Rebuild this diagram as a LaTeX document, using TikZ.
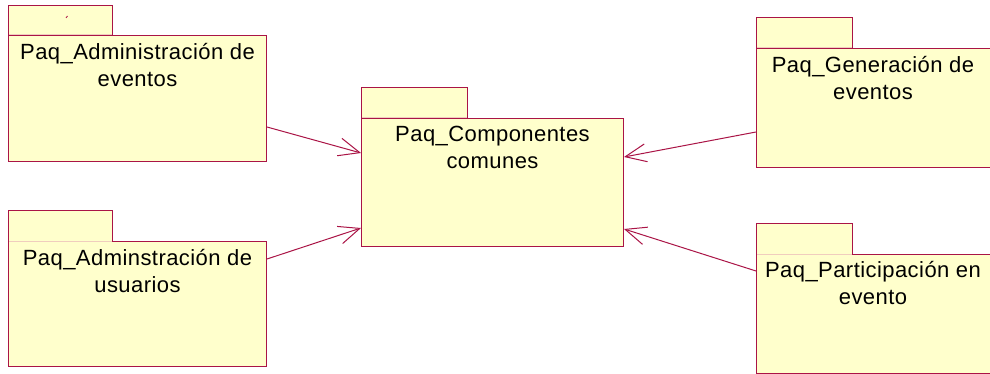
\documentclass[tikz,border=0pt]{standalone}
\usepackage{fontspec}
\setmainfont{Liberation Sans}
\newfontfamily\pkgfont{Liberation Sans}[LetterSpace=2]
\usetikzlibrary{arrows.meta,calc}
\definecolor{pkgline}{RGB}{170,20,70}
\definecolor{pkgfill}{RGB}{255,255,204}
\definecolor{tabseam}{RGB}{240,205,190}
\begin{document}
\begin{tikzpicture}[x=1pt,y=-1pt,
  pkgbox/.style={draw=pkgline,fill=pkgfill,line width=1pt,inner sep=0pt,anchor=north west,rectangle},
  pkgtext/.style={font=\pkgfont\fontsize{22}{27}\selectfont,align=center,inner sep=0pt,anchor=north,text=black},
  dep/.style={draw=pkgline,line width=1pt,-{Straight Barb[length=21pt,width=18pt,line width=1pt]}}]
\useasboundingbox (0,0) rectangle (990,374);
\clip (0,0) rectangle (990,374);
\fill[white] (0,0) rectangle (990,374);
% packages: tab, body, pale seam under the tab
\node[pkgbox,minimum width=104,minimum height=30] (p1tab) at (8,5) {};
\node[pkgbox,minimum width=258,minimum height=126] (p1) at (8,35) {};
\draw[tabseam,line width=1pt] (9,35) -- (111.5,35);
\node[pkgbox,minimum width=104,minimum height=31] (p2tab) at (8,210) {};
\node[pkgbox,minimum width=258,minimum height=125] (p2) at (8,241) {};
\draw[tabseam,line width=1pt] (9,241) -- (111.5,241);
\node[pkgbox,minimum width=106,minimum height=31] (pctab) at (361,87) {};
\node[pkgbox,minimum width=262,minimum height=128] (pc) at (361,118) {};
\draw[tabseam,line width=1pt] (362,118) -- (466.5,118);
\node[pkgbox,minimum width=96,minimum height=31] (pgtab) at (756,17) {};
\node[pkgbox,minimum width=260,minimum height=119] (pg) at (756,48) {};
\draw[tabseam,line width=1pt] (757,48) -- (851.5,48);
\node[pkgbox,minimum width=96,minimum height=31] (pptab) at (756,223) {};
\node[pkgbox,minimum width=260,minimum height=119] (pp) at (756,254) {};
\draw[tabseam,line width=1pt] (757,254) -- (851.5,254);
% stray mark in first tab
\draw[pkgline,line width=0.8pt] (66,18) -- (67.5,16);
% texts
\node[pkgtext] (p1t) at ($(p1.north)+(0,8)$) {Paq\_Administración de\\eventos};
\node[pkgtext] (p2t) at ($(p2.north)+(0,8)$) {Paq\_Adminstración de\\usuarios};
\node[pkgtext] (pct) at ($(pc.north)+(0,8)$) {Paq\_Componentes\\comunes};
\node[pkgtext] (pgt) at ($(pg.north west)+(117,8)$) {Paq\_Generación de\\eventos};
\node[pkgtext] (ppt) at ($(pp.north west)+(117,7)$) {Paq\_Participación en\\evento};
% dependencies
\draw[dep] ($(p1.north east)+(0,92)$) -- ($(pc.north west)+(0,35)$);
\draw[dep] ($(p2.north east)+(0,18)$) -- ($(pc.north west)+(0,110)$);
\draw[dep] ($(pg.north west)+(0,84)$) -- ($(pc.north east)+(0,39)$);
\draw[dep] ($(pp.north west)+(0,17)$) -- ($(pc.north east)+(0,111)$);
\end{tikzpicture}
\end{document}
